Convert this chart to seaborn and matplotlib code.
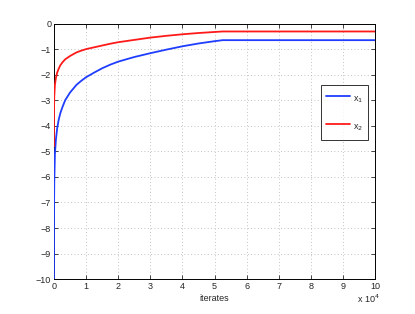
import matplotlib
matplotlib.use("Agg")
import matplotlib.pyplot as plt
import pandas as pd
import seaborn as sns

# iterates in units of 1e4
iters = [0.0001, 0.0003, 0.001, 0.003, 0.01, 0.03, 0.06, 0.1, 0.15, 0.2, 0.27, 0.35, 0.5,
         0.7, 0.85, 1.0, 1.25, 1.5, 1.75, 2.0, 2.5, 3.0, 3.5, 4.0, 4.5, 5.0, 5.25, 10.0]
x1_vals = [-10.0, -9.2, -8.2, -7.2, -6.2, -5.1, -4.55, -4.1, -3.75, -3.5, -3.25, -3.0, -2.7,
           -2.4, -2.24, -2.1, -1.92, -1.75, -1.61, -1.49, -1.31, -1.16, -1.02, -0.89, -0.78,
           -0.69, -0.65, -0.65]
x2_vals = [-4.8, -4.3, -3.8, -3.3, -2.85, -2.4, -2.13, -1.92, -1.76, -1.63, -1.51, -1.4, -1.27,
           -1.13, -1.06, -1.0, -0.93, -0.86, -0.79, -0.73, -0.64, -0.55, -0.48, -0.42, -0.37,
           -0.33, -0.31, -0.31]

series_names = ["x$_1$", "x$_2$"]
colors = ["#1f3dff", "#ff1a1a"]

df = pd.concat([
    pd.DataFrame({"iterates": iters, "value": x1_vals, "series": series_names[0]}),
    pd.DataFrame({"iterates": iters, "value": x2_vals, "series": series_names[1]}),
])

sns.set_style("ticks")
plt.rcParams["font.family"] = ["Liberation Sans", "DejaVu Sans"]
plt.rcParams["font.size"] = 6.5

fig = plt.figure(figsize=(4.15, 3.14), dpi=100)
ax = fig.add_axes([0.130, 0.111, 0.774, 0.814])

sns.lineplot(data=df, x="iterates", y="value", hue="series", palette=colors,
             estimator=None, sort=False, linewidth=1.3, ax=ax, zorder=3)

ax.set_xlim(0, 10)
ax.set_ylim(-10, 0)
ax.set_xticks(range(0, 11))
ax.set_yticks(range(-10, 1))
ax.grid(True, linestyle=(0, (1, 3)), color="#b0b0b0", linewidth=0.6)
ax.tick_params(direction="in", top=True, right=True, length=3, width=0.6,
               labelsize=6.5, pad=2)
for s in ax.spines.values():
    s.set_linewidth(0.7)
    s.set_color("black")
    s.set_zorder(2)

ax.set_xlabel("iterates", fontsize=6.5, labelpad=2)
ax.set_ylabel("")
fig.text(0.86, 0.035, "x 10$^4$", fontsize=6.5)

leg = ax.legend(loc="center", bbox_to_anchor=(0.905, 0.651), frameon=True, fancybox=False,
                edgecolor="black", handlelength=2.7, handleheight=2.5, labelspacing=1.2,
                borderpad=0.55, handletextpad=0.35, fontsize=6.5)
leg.get_frame().set_linewidth(0.7)

fig.savefig("out.png", dpi=100)
